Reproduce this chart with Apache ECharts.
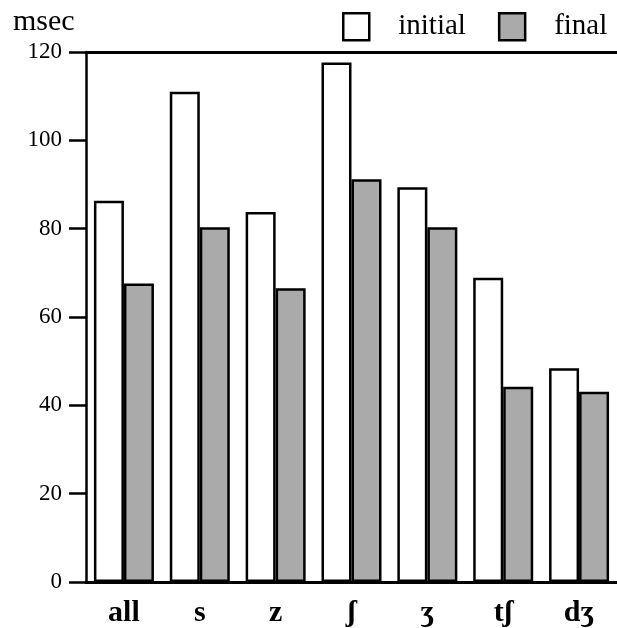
<!DOCTYPE html>
<html>
<head>
<meta charset="utf-8">
<script src="https://cdn.jsdelivr.net/npm/echarts@6/dist/echarts.min.js"></script>
<style>
html,body{margin:0;padding:0;background:#fff;}
#chart{width:617px;height:628px;}
</style>
</head>
<body>
<div id="chart"></div>
<script>
var categories = ['all', 's', 'z', 'ʃ', 'ʒ', 'tʃ', 'dʒ'];
var initialValues = [86.3, 111.0, 83.8, 117.6, 89.4, 68.9, 48.4];
var finalValues = [67.6, 80.3, 66.5, 91.2, 80.3, 44.2, 43.1];
var yTicks = [0, 20, 40, 60, 80, 100, 120];
var unitLabel = 'msec';

var serif = '"Liberation Serif", "Times New Roman", "DejaVu Serif", serif';
var chart = echarts.init(document.getElementById('chart'), null, {renderer: 'canvas'});
chart.setOption({
  animation: false,
  backgroundColor: '#fff',
  title: {
    text: unitLabel, left: 13, top: 7, padding: 0,
    textStyle: {fontFamily: serif, fontSize: 30, fontWeight: 'normal', color: '#000'}
  },
  grid: {left: 86, top: 52, bottom: 46, width: 535},
  legend: {
    left: 342, top: 12, padding: 0,
    itemWidth: 26, itemHeight: 27, itemGap: 32,
    icon: 'rect',
    data: ['initial', 'final'],
    textStyle: {fontFamily: serif, fontSize: 29, color: '#000', padding: [0, 0, 6, 24]},
    itemStyle: {borderColor: '#000', borderWidth: 2.5}
  },
  xAxis: [{
    type: 'category',
    data: categories,
    position: 'bottom',
    axisLine: {show: true, lineStyle: {color: '#000', width: 3}},
    axisTick: {show: false},
    axisLabel: {fontFamily: serif, fontSize: 30, fontWeight: 'bold', color: '#000', margin: 16},
    z: 10
  }, {
    type: 'category',
    data: categories,
    position: 'top',
    axisLine: {show: true, lineStyle: {color: '#000', width: 3}},
    axisTick: {show: false},
    axisLabel: {show: false}
  }],
  yAxis: {
    type: 'value',
    min: yTicks[0], max: yTicks[yTicks.length - 1], interval: 20,
    axisLine: {show: true, lineStyle: {color: '#000', width: 2.5}},
    axisTick: {show: true, length: 17, lineStyle: {color: '#000', width: 2.5}},
    axisLabel: {fontFamily: serif, fontSize: 23, color: '#000', margin: 24},
    splitLine: {show: false}
  },
  series: [{
    name: 'initial',
    type: 'bar',
    data: initialValues,
    barWidth: 30,
    barGap: '0%',
    itemStyle: {color: '#ffffff', borderColor: '#000', borderWidth: 2.5}
  }, {
    name: 'final',
    type: 'bar',
    data: finalValues,
    barWidth: 30,
    barGap: '0%',
    itemStyle: {color: '#aaaaaa', borderColor: '#000', borderWidth: 2.5}
  }]
});
</script>
</body>
</html>
